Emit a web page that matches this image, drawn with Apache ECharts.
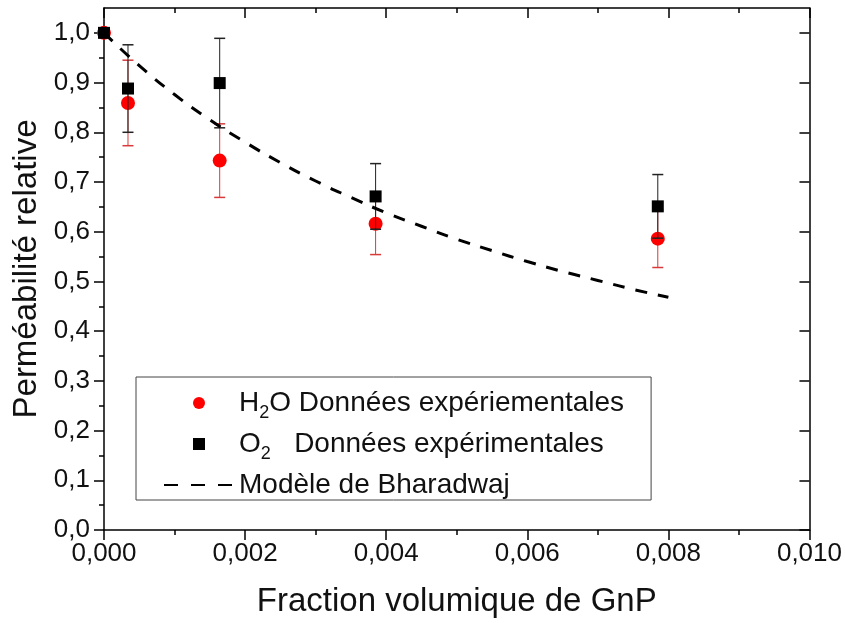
<!DOCTYPE html>
<html><head><meta charset="utf-8">
<script src="https://cdn.jsdelivr.net/npm/echarts@6/dist/echarts.min.js"></script>
<style>html,body{margin:0;padding:0;background:#fff}#c{width:845px;height:623px}</style>
</head><body><div id="c"></div>
<script>
// ---- data ----
const fraction = [0, 0.00034, 0.00164, 0.00385, 0.00785];
const h2oValues = [1.0, 0.859, 0.743, 0.616, 0.586];
const h2oErrors = [0, 0.086, 0.074, 0.062, 0.058];
const o2Values = [1.0, 0.888, 0.899, 0.671, 0.651];
const o2Errors = [0, 0.088, 0.090, 0.066, 0.064];
const modelX = [0, 0.0005, 0.001, 0.0015, 0.002, 0.0025, 0.003, 0.0035, 0.004, 0.0045, 0.005, 0.0055, 0.006, 0.0065, 0.007, 0.0075, 0.008];
const modelY = [1.0, 0.934, 0.876, 0.825, 0.780, 0.739, 0.702, 0.669, 0.638, 0.611, 0.585, 0.562, 0.540, 0.520, 0.502, 0.484, 0.468];
const yMajorTicks = [0, 0.1, 0.2, 0.3, 0.4, 0.5, 0.6, 0.7, 0.8, 0.9, 1.0];
const yMinorTicks = [0.05, 0.15, 0.25, 0.35, 0.45, 0.55, 0.65, 0.75, 0.85, 0.95];
const xTickLabels = ['0,000', '0,002', '0,004', '0,006', '0,008', '0,010'];
const legendNames = ['H2O', 'O2', 'Modèle de Bharadwaj'];
const legendTexts = ['H{sub|2}O Données expériementales', 'O{sub|2}   Données expérimentales', 'Modèle de Bharadwaj{sub|\u200b}'];

const FONT = 'Liberation Sans, Arial, sans-serif';
const chart = echarts.init(document.getElementById('c'));

function errorSeries(name, vals, errs, color, z) {
  return {
    type: 'custom', name: name, silent: true, z: z, clip: false,
    data: fraction.map((x, i) => [x, vals[i], errs[i]]),
    encode: { x: 0, y: 1 },
    renderItem: function (params, api) {
      const x = api.value(0), y = api.value(1), e = api.value(2);
      if (!e) return null;
      const top = api.coord([x, y + e]);
      const bot = api.coord([x, y - e]);
      const hw = 5.5;
      return {
        type: 'group', children: [
          { type: 'line', shape: { x1: top[0], y1: top[1], x2: bot[0], y2: bot[1] }, style: { stroke: color, lineWidth: 1 } },
          { type: 'line', shape: { x1: top[0] - hw, y1: top[1], x2: top[0] + hw, y2: top[1] }, style: { stroke: color, lineWidth: 1.5 } },
          { type: 'line', shape: { x1: bot[0] - hw, y1: bot[1], x2: bot[0] + hw, y2: bot[1] }, style: { stroke: color, lineWidth: 1.5 } }
        ]
      };
    }
  };
}

const axisLineStyle = { color: '#000', width: 1.5 };
const labelStyle = { fontSize: 26, color: '#111', fontFamily: FONT };

chart.setOption({
  animation: false,
  backgroundColor: '#fff',
  grid: { left: 104, right: 35, top: 8, bottom: 92 },
  xAxis: [
    {
      type: 'value', position: 'bottom', min: 0, max: 0.01, interval: 0.002,
      axisLine: { lineStyle: axisLineStyle, onZero: false },
      axisTick: { inside: false, length: 10, lineStyle: axisLineStyle },
      minorTick: { show: true, splitNumber: 2, length: 5, lineStyle: axisLineStyle },
      splitLine: { show: false },
      axisLabel: Object.assign({ margin: 11, formatter: v => xTickLabels[Math.round(v / 0.002)] }, labelStyle),
      name: 'Fraction volumique de GnP', nameLocation: 'middle', nameGap: 55,
      nameTextStyle: { fontSize: 33, color: '#111', fontFamily: FONT }
    },
    {
      type: 'value', position: 'top', min: 0, max: 0.01, interval: 0.002,
      axisLine: { lineStyle: axisLineStyle, onZero: false },
      axisTick: { inside: true, length: 10, lineStyle: axisLineStyle },
      minorTick: { show: true, splitNumber: 2, length: 5, lineStyle: axisLineStyle },
      splitLine: { show: false }, axisLabel: { show: false }
    }
  ],
  yAxis: [
    {
      type: 'value', position: 'left', min: 0, max: 1.05,
      axisLine: { lineStyle: axisLineStyle, onZero: false },
      axisTick: { inside: false, length: 10, lineStyle: axisLineStyle, customValues: yMajorTicks },
      splitLine: { show: false },
      axisLabel: Object.assign({ margin: 14, customValues: yMajorTicks, formatter: v => v.toFixed(1).replace('.', ',') }, labelStyle),
      name: 'Perméabilité relative', nameLocation: 'middle', nameGap: 56,
      nameTextStyle: { fontSize: 33, color: '#111', fontFamily: FONT }
    },
    {
      type: 'value', position: 'left', min: 0, max: 1.05,
      axisLine: { show: false },
      axisTick: { inside: false, length: 5, lineStyle: axisLineStyle, customValues: yMinorTicks },
      splitLine: { show: false }, axisLabel: { show: false }
    },
    {
      type: 'value', position: 'right', min: 0, max: 1.05,
      axisLine: { lineStyle: axisLineStyle, onZero: false },
      axisTick: { inside: true, length: 10, lineStyle: axisLineStyle, customValues: yMajorTicks },
      splitLine: { show: false }, axisLabel: { show: false }
    },
    {
      type: 'value', position: 'right', min: 0, max: 1.05,
      axisLine: { show: false },
      axisTick: { inside: true, length: 5, lineStyle: axisLineStyle, customValues: yMinorTicks },
      splitLine: { show: false }, axisLabel: { show: false }
    }
  ],
  legend: {
    orient: 'vertical', left: 136, top: 377,
    padding: [11, 27, -4, 27],
    itemWidth: 70, itemHeight: 12, itemGap: 7,
    borderColor: '#444', borderWidth: 1, borderRadius: 0,
    symbolKeepAspect: true,
    data: [
      { name: legendNames[0] },
      { name: legendNames[1], icon: 'path://M0,0L10,0L10,10L0,10Z' },
      { name: legendNames[2], itemStyle: { opacity: 0 }, lineStyle: { type: [14, 13] } }
    ],
    formatter: name => legendTexts[legendNames.indexOf(name)],
    textStyle: {
      fontSize: 28, color: '#111', fontFamily: FONT, lineHeight: 30,
      rich: { sub: { fontSize: 18, color: '#111', fontFamily: FONT, padding: [20, 0, 0, 0] } }
    }
  },
  series: [
    errorSeries('h2oErr', h2oValues, h2oErrors, '#d83a3a', 2),
    {
      type: 'scatter', name: 'H2O', symbol: 'circle', symbolSize: 14, clip: false, z: 3,
      itemStyle: { color: '#ff0000', opacity: 1 },
      data: fraction.map((x, i) => [x, h2oValues[i]])
    },
    errorSeries('o2Err', o2Values, o2Errors, '#222', 4),
    {
      type: 'scatter', name: 'O2', symbol: 'rect', symbolSize: 12, clip: false, z: 5,
      itemStyle: { color: '#000', opacity: 1 },
      data: fraction.map((x, i) => [x, o2Values[i]])
    },
    {
      type: 'line', name: 'Modèle de Bharadwaj', smooth: true, showSymbol: false, symbol: 'none', z: 6,
      lineStyle: { color: '#000', width: 3, type: [12, 11] },
      itemStyle: { color: '#000' },
      data: modelX.map((x, i) => [x, modelY[i]])
    }
  ]
});
</script>
</body></html>
